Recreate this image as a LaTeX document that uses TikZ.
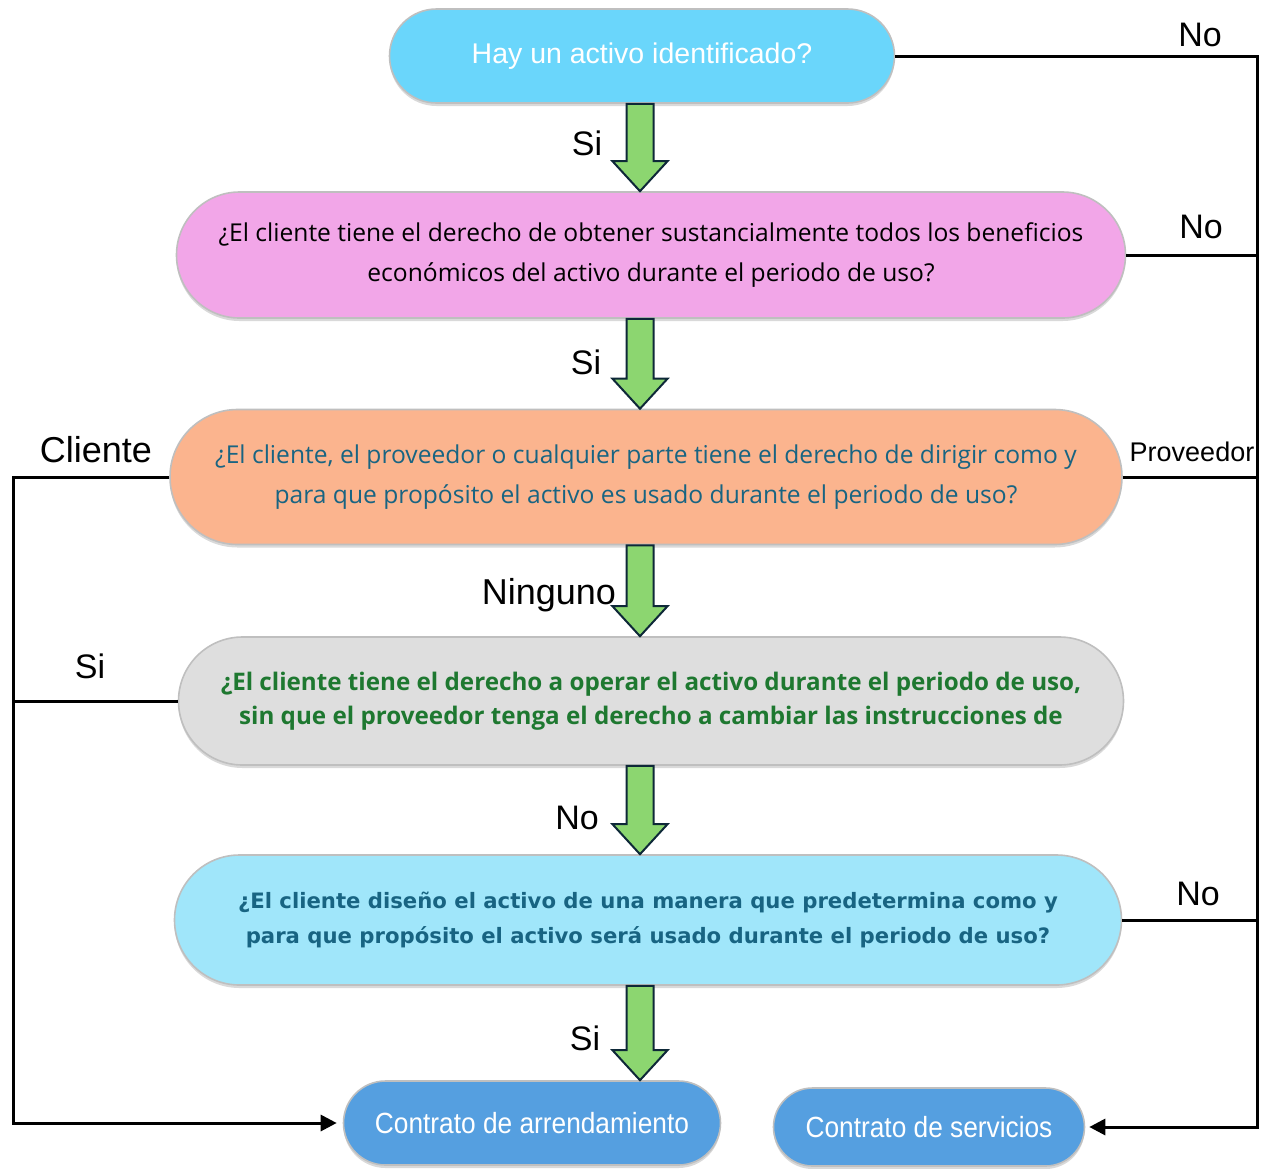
\documentclass[tikz,border=0pt]{standalone}
\usepackage{fontspec}
\setmainfont{Liberation Sans}
\newfontfamily\boxfont{Open Sans}
\newfontfamily\cyanfont{DejaVu Sans}
\newfontfamily\narrowfont[FakeStretch=0.9]{Liberation Sans}
\usepackage{tikz}
\usetikzlibrary{arrows.meta,positioning,shapes,calc,shadows}

\definecolor{qtop}{RGB}{106,214,251}
\definecolor{qpink}{RGB}{242,166,232}
\definecolor{qorange}{RGB}{251,180,142}
\definecolor{qgray}{RGB}{222,222,222}
\definecolor{qcyan}{RGB}{160,230,250}
\definecolor{qblue}{RGB}{85,159,224}
\definecolor{txteal}{RGB}{24,100,130}
\definecolor{txgreen}{RGB}{30,120,48}
\definecolor{agreen}{RGB}{140,214,112}
\definecolor{anavy}{RGB}{14,40,56}

\begin{document}
\begin{tikzpicture}[x=0.5pt,y=-0.5pt]
  % Node style
  \tikzstyle{capsule}=[rounded rectangle,draw=black!25,line width=0.8pt,align=center,inner sep=2pt,drop shadow={opacity=0.3,shadow xshift=0pt,shadow yshift=-1.5pt}]
  \tikzstyle{qbox}=[capsule,font={\boxfont\fontsize{12.3}{20}\selectfont}]
  \tikzstyle{lbl}=[inner sep=0pt,font=\fontsize{17}{20}\selectfont]
  \tikzstyle{conn}=[line width=1.5pt]
  \tikzstyle{tip}=[-{Triangle[length=8pt,width=8pt]}]
  \tikzstyle{garrow}=[fill=agreen,draw=anavy,line width=1pt,line join=miter,
    to path={let \p1=(\tikztostart), \p2=(\tikztotarget) in
      (\x1-6.75pt,\y1) -- (\x1+6.75pt,\y1) -- (\x1+6.75pt,\y2+15pt) -- (\x1+13.75pt,\y2+15pt)
      -- (\x1,\y2) -- (\x1-13.75pt,\y2+15pt) -- (\x1-6.75pt,\y2+15pt) -- cycle}]

  \useasboundingbox (0,0) rectangle (1266,1169);

  % Nodes
  \node[capsule,fill=qtop,text=white,minimum width=256.5pt,minimum height=47pt,font=\fontsize{14.25}{17}\selectfont] (ident) at (642,56) {Hay un activo identificado?};
  \node[qbox,fill=qpink,minimum width=478.5pt,minimum height=63pt] (benef) at (651,255)
    {¿El cliente tiene el derecho de obtener sustancialmente todos los beneficios\\económicos del activo durante el periodo de uso?};
  \node[qbox,fill=qorange,text=txteal,minimum width=480pt,minimum height=67.5pt] (dirigir) at (646,477)
    {¿El cliente, el proveedor o cualquier parte tiene el derecho de dirigir como y\\para que propósito el activo es usado durante el periodo de uso?};
  \node[qbox,fill=qgray,text=txgreen,minimum width=476.5pt,minimum height=64pt,font={\boxfont\bfseries\fontsize{12.1}{17}\selectfont}] (operar) at (651,701)
    {¿El cliente tiene el derecho a operar el activo durante el periodo de uso,\\sin que el proveedor tenga el derecho a cambiar las instrucciones de};
  \node[capsule,fill=qcyan,text=txteal,minimum width=477.5pt,minimum height=65pt,font={\cyanfont\bfseries\fontsize{10.6}{17.5}\selectfont}] (disenio) at (648,920)
    {¿El cliente diseño el activo de una manera que predetermina como y\\para que propósito el activo será usado durante el periodo de uso?};
  \node[capsule,fill=qblue,text=white,minimum width=192.5pt,minimum height=42pt,font={\narrowfont\fontsize{14.6}{17}\selectfont}] (arrend) at (532,1123) {Contrato de arrendamiento};
  \node[capsule,fill=qblue,text=white,minimum width=159.5pt,minimum height=39pt,font={\narrowfont\fontsize{14.6}{17}\selectfont}] (servicios) at (929,1127) {Contrato de servicios};

  % Guide lines for the connectors
  \coordinate (ax) at (640,0);
  \coordinate (lx) at (13,0);
  \coordinate (rx) at (1257,0);

  % Block arrows
  \draw[garrow] (ident.south -| ax) to (benef.north -| ax);
  \draw[garrow] (benef.south -| ax) to (dirigir.north -| ax);
  \draw[garrow] (dirigir.south -| ax) to (operar.north -| ax);
  \draw[garrow] (operar.south -| ax) to (disenio.north -| ax);
  \draw[garrow] (disenio.south -| ax) to (arrend.north -| ax);

  % Connections on the right
  \draw[conn,tip,shorten >=2pt] (ident.east) -| (rx |- servicios.east) -- (servicios.east);
  \draw[conn] (benef.east) -- (benef.east -| rx);
  \draw[conn] (dirigir.east) -- (dirigir.east -| rx);
  \draw[conn] (disenio.east) -- (disenio.east -| rx);

  % Connections on the left
  \draw[conn] (dirigir.west) -| (operar.west -| lx);
  \draw[conn,tip,shorten >=3pt] (operar.west) -| (lx |- arrend.west) -- (arrend.west);

  % Labels
  \node[lbl] (si1) at (587,143) {Si};
  \node[lbl] (si2) at (586,362) {Si};
  \node[lbl,font=\fontsize{18}{20}\selectfont] (ninguno) at (549,595) {Ninguno};
  \node[lbl] (no4) at (577,818) {No};
  \node[lbl] (si5) at (585,1038) {Si};
  \node[lbl] (no1) at (1200,35) {No};
  \node[lbl] (no2) at (1201,227) {No};
  \node[lbl,font=\fontsize{13.5}{16}\selectfont] (prov) at (1192,452) {Proveedor};
  \node[lbl] (no5) at (1198,894) {No};
  \node[lbl,font=\fontsize{18}{20}\selectfont] (cliente) at (96,450) {Cliente};
  \node[lbl] (si3) at (90,666) {Si};
\end{tikzpicture}
\end{document}
